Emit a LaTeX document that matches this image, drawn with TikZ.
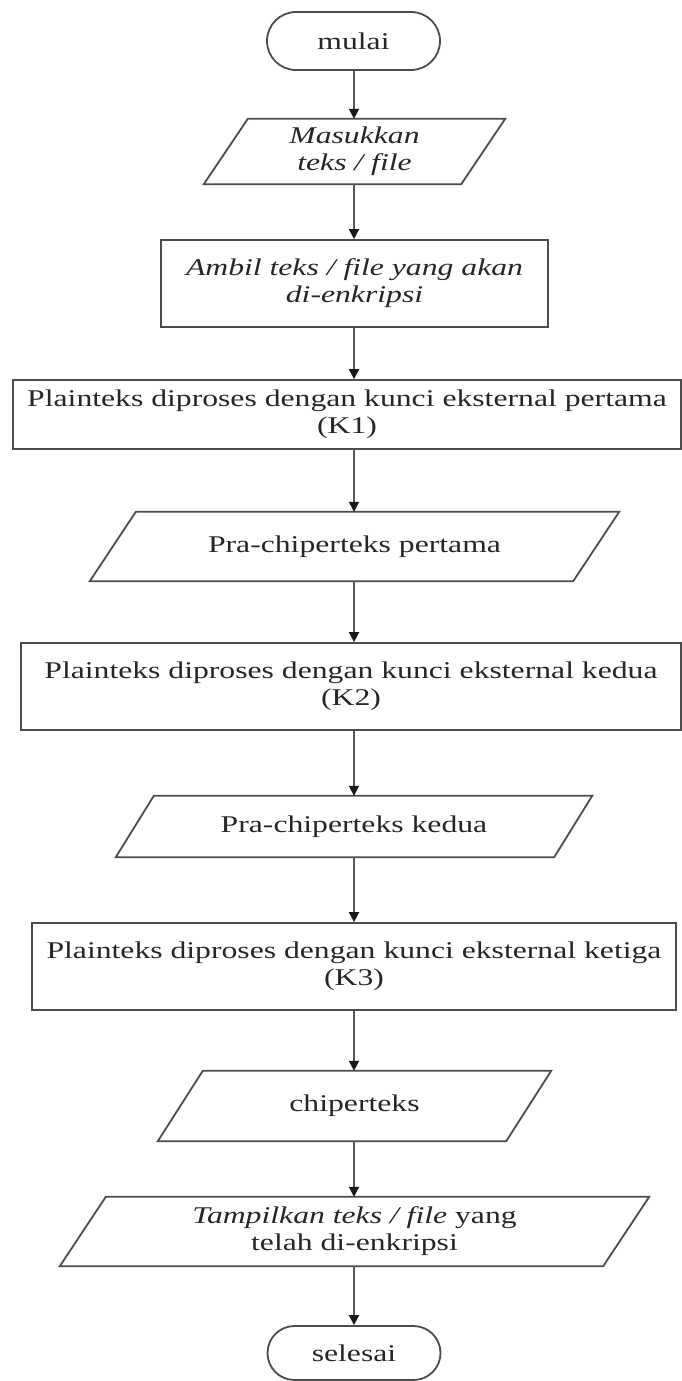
\documentclass[tikz,border=0pt]{standalone}
\usepackage{fontspec}
\setmainfont{Liberation Serif}[FakeStretch=1.32]
\usetikzlibrary{arrows.meta,calc}

\begin{document}
\begin{tikzpicture}[x=1pt,y=-1pt,
  every node/.style={font=\fontsize{24}{27}\selectfont, text=black!85, align=center, inner sep=0pt},
  shapeline/.style={draw=black!70, line width=1.8pt},
  terminal/.style={shapeline, rectangle, rounded corners=29pt, minimum width=173pt, minimum height=58pt},
  process/.style={shapeline, rectangle},
  iobox/.style={rectangle},
  flow/.style={draw=black!65, line width=1.8pt, -{Triangle[width=10pt,length=10pt,color=black!90]}}
]
\useasboundingbox (0,0) rectangle (682,1381);

% vertical axis shared by all connectors
\coordinate (axis) at (354,0);

% terminals, process boxes and input/output boxes
\node[terminal] (start) at (353.5,41) {mulai};
\node[iobox, minimum width=257pt, minimum height=65pt] (input) at (354.5,151.5)
  {\textit{Masukkan}\\\textit{teks / file}};
\node[process, minimum width=387pt, minimum height=87pt] (take) at (354.5,283.5)
  {\textit{Ambil teks / file yang akan}\\\textit{di-enkripsi}};
\node[process, minimum width=668pt, minimum height=69pt] (key1) at (347,414.5)
  {Plainteks diproses dengan kunci eksternal pertama\\(K1)};
\node[iobox, minimum width=483pt, minimum height=69pt] (pre1) at (354.5,546.5)
  {Pra-chiperteks pertama};
\node[process, minimum width=660pt, minimum height=87pt] (key2) at (351,686.5)
  {Plainteks diproses dengan kunci eksternal kedua\\(K2)};
\node[iobox, minimum width=438pt, minimum height=61pt] (pre2) at (354,826.5)
  {Pra-chiperteks kedua};
\node[process, minimum width=644pt, minimum height=87pt] (key3) at (354,966.5)
  {Plainteks diproses dengan kunci eksternal ketiga\\(K3)};
\node[iobox, minimum width=348pt, minimum height=70pt] (cipher) at (354.5,1106)
  {chiperteks};
\node[iobox, minimum width=543pt, minimum height=69pt] (show) at (354.5,1231.5)
  {\textit{Tampilkan teks / file} yang\\telah di-enkripsi};
\node[terminal, minimum height=54pt, rounded corners=27pt] (stop) at (354,1353) {selesai};

% slanted outlines of the input/output boxes
\foreach \n/\s in {input/44, pre1/46, pre2/38, cipher/45, show/46}
  \draw[shapeline]
    ($(\n.north west)+(\s/2,0)$) -- ($(\n.north east)+(\s/2,0)$) --
    ($(\n.south east)-(\s/2,0)$) -- ($(\n.south west)-(\s/2,0)$) -- cycle;

% flow connectors
\foreach \a/\b in {start/input, input/take, take/key1, key1/pre1, pre1/key2,
                   key2/pre2, pre2/key3, key3/cipher, cipher/show, show/stop}
  \draw[flow] (\a.south -| axis) -- (\b.north -| axis);
\end{tikzpicture}
\end{document}
